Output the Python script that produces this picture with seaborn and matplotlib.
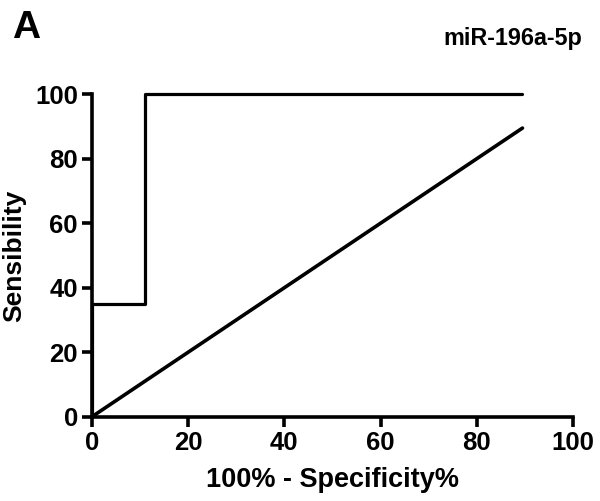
import matplotlib
matplotlib.use("Agg")
import matplotlib.pyplot as plt
import seaborn as sns
import pandas as pd

# ROC curve points (100% - Specificity%, Sensibility)
fpr = [0, 0, 11, 11, 89.5]
tpr = [0, 35, 35, 100, 100]
# reference line
ref_x = [0, 89.5]
ref_y = [0, 89.5]
ticks = [0, 20, 40, 60, 80, 100]

sns.set_theme(style="ticks")
plt.rcParams['font.family'] = ['Liberation Sans', 'DejaVu Sans']
plt.rcParams['font.weight'] = 'bold'
plt.rcParams['text.color'] = 'black'
plt.rcParams['axes.labelcolor'] = 'black'

fig = plt.figure(figsize=(6, 5.01), dpi=100)
ax = fig.add_axes([0.153, 0.168, 0.802, 0.644])

roc = pd.DataFrame({"x": fpr, "y": tpr})
diag = pd.DataFrame({"x": ref_x, "y": ref_y})
sns.lineplot(data=roc, x="x", y="y", sort=False, estimator=None, color="black", linewidth=2.3, ax=ax)
sns.lineplot(data=diag, x="x", y="y", sort=False, estimator=None, color="black", linewidth=2.6, ax=ax)
# don't clip the curve along the top edge
for ln in ax.lines:
    ln.set_clip_on(False)

ax.set_xlim(0, 100)
ax.set_ylim(0, 100)
ax.set_xticks(ticks)
ax.set_yticks(ticks)
for s in ["top", "right"]:
    ax.spines[s].set_visible(False)
for s in ["left", "bottom"]:
    ax.spines[s].set_linewidth(2.6)
    ax.spines[s].set_color("black")
ax.tick_params(width=2.6, length=7, labelsize=18.5, colors="black", direction="out", pad=3)
for lab in ax.get_xticklabels() + ax.get_yticklabels():
    lab.set_fontweight("bold")
ax.set_xlabel("100% - Specificity%", fontsize=19.5, fontweight="bold", labelpad=9)
ax.set_ylabel("Sensibility", fontsize=19, fontweight="bold", labelpad=6)

fig.text(0.02, 0.925, "A", fontsize=28, fontweight="bold")
fig.text(0.855, 0.91, "miR-196a-5p", fontsize=16.8, fontweight="bold", ha="center")

fig.savefig("out.png", dpi=100)
